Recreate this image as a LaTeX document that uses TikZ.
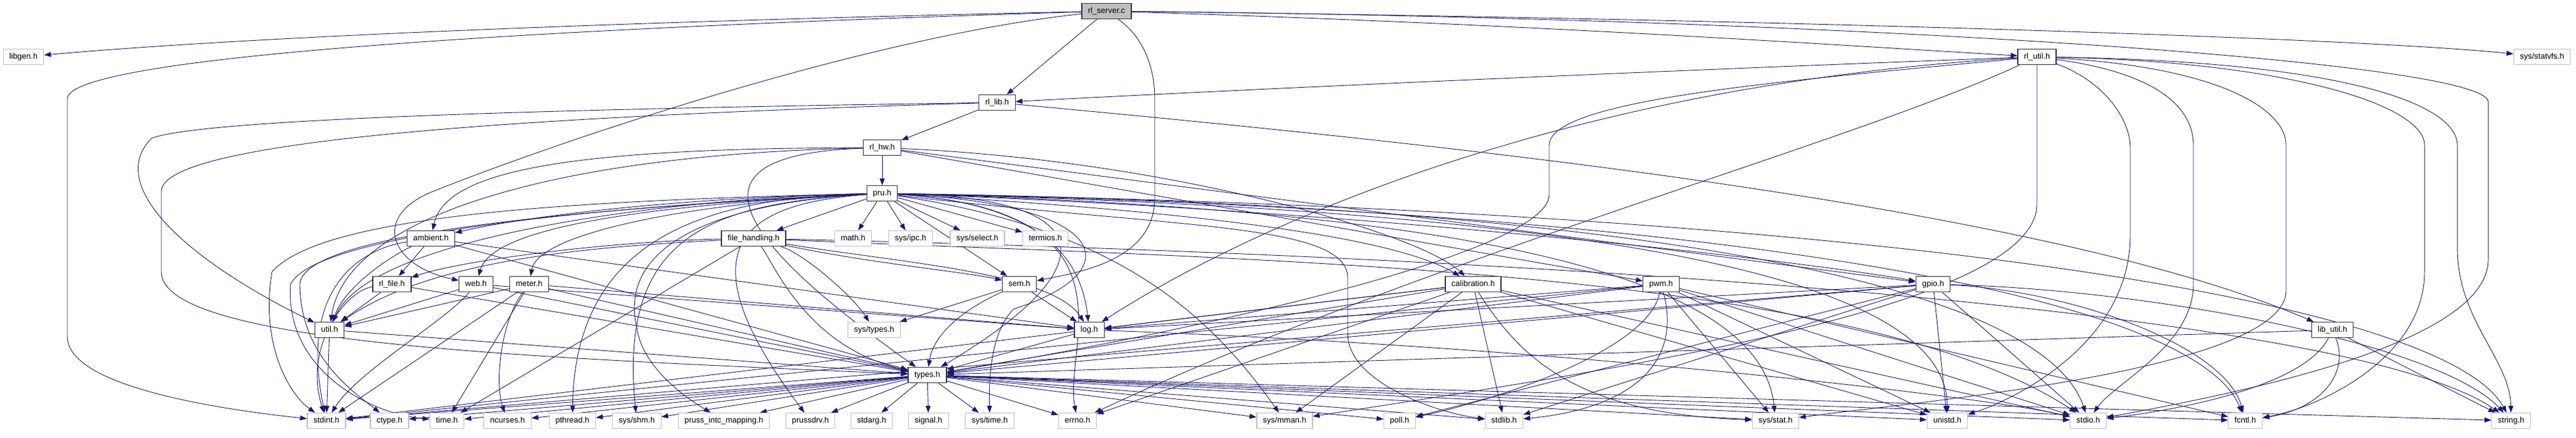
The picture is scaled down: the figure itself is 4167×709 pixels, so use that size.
\documentclass[tikz,border=0pt]{standalone}
\usepackage{fontspec}
\setmainfont{Liberation Sans}
\usetikzlibrary{arrows.meta}
\definecolor{eblue}{RGB}{25,25,112}
\definecolor{extgrey}{RGB}{191,191,191}
\pgfdeclarelayer{bg}
\pgfdeclarelayer{paper}
\pgfsetlayers{paper,bg,main}
\begin{document}
\begin{tikzpicture}[x=1pt,y=-1pt,
  nd/.style={draw=black!80, line width=1.2pt, fill=white, minimum height=25pt,
    inner xsep=10pt, inner ysep=0pt, text height=9.5pt, text depth=2.7pt,
    font=\fontsize{13}{15}\selectfont},
  ext/.style={nd, draw=extgrey},
  rootn/.style={nd, fill=extgrey},
  e/.style={draw=eblue, line width=0.9pt, -{Triangle[length=11pt,width=8pt]}}]
\begin{pgfonlayer}{paper}
\fill[white] (0,0) rectangle (4167,709);
\end{pgfonlayer}
\useasboundingbox (0,0) rectangle (4167,709);
% ---- nodes ----
\node[rootn] (R) at (1790,18) {rl\_server.c};
\node[ext] (libgen) at (38,92) {libgen.h};
\node[nd] (rlutil) at (3295,92) {rl\_util.h};
\node[ext] (statvfs) at (4112,92) {sys/statvfs.h};
\node[nd] (rllib) at (1613,166) {rl\_lib.h};
\node[nd] (rlhw) at (1427,239) {rl\_hw.h};
\node[nd] (pru) at (1427,313) {pru.h};
\node[nd] (ambient) at (697,386) {ambient.h};
\node[nd] (fh) at (1219,386) {file\_handling.h};
\node[ext] (math) at (1380,386) {math.h};
\node[ext] (ipc) at (1473,386) {sys/ipc.h};
\node[ext] (select) at (1581,386) {sys/select.h};
\node[ext] (termios) at (1691,386) {termios.h};
\node[nd] (rlfile) at (634,460) {rl\_file.h};
\node[nd] (web) at (770,460) {web.h};
\node[nd] (meter) at (856,460) {meter.h};
\node[nd] (sem) at (1649,460) {sem.h};
\node[nd] (calib) at (2383,460) {calibration.h};
\node[nd] (pwm) at (2687,460) {pwm.h};
\node[nd] (gpio) at (3127,460) {gpio.h};
\node[nd] (util) at (533,534) {util.h};
\node[ext] (systypes) at (1414,534) {sys/types.h};
\node[nd] (log) at (1762,534) {log.h};
\node[nd] (libutil) at (3773,534) {lib\_util.h};
\node[nd] (types) at (1500,607) {types.h};
\node[ext] (stdint) at (528,681) {stdint.h};
\node[ext] (ctype) at (630,681) {ctype.h};
\node[ext] (time) at (723,681) {time.h};
\node[ext] (ncurses) at (821,681) {ncurses.h};
\node[ext] (pthread) at (926,681) {pthread.h};
\node[ext] (shm) at (1030,681) {sys/shm.h};
\node[ext] (pruss) at (1171,681) {pruss\_intc\_mapping.h};
\node[ext] (prussdrv) at (1311,681) {prussdrv.h};
\node[ext] (stdarg) at (1410,681) {stdarg.h};
\node[ext] (signal) at (1502,681) {signal.h};
\node[ext] (systime) at (1601,681) {sys/time.h};
\node[ext] (errno) at (1743,681) {errno.h};
\node[ext] (mman) at (2078,681) {sys/mman.h};
\node[ext] (poll) at (2264,681) {poll.h};
\node[ext] (stdlib) at (2433,681) {stdlib.h};
\node[ext] (stat) at (2872,681) {sys/stat.h};
\node[ext] (unistd) at (3150,681) {unistd.h};
\node[ext] (stdio) at (3378,681) {stdio.h};
\node[ext] (fcntl) at (3632,681) {fcntl.h};
\node[ext] (string) at (4062,681) {string.h};
% ---- edges ----
\begin{pgfonlayer}{bg}
% rl_server.c
\draw[e] (R) .. controls (1000,35) and (400,60) .. (libgen);
\draw[e] (R) .. controls (900,45) and (109,90) .. (109,160) -- (109,545) .. controls (109,625) and (350,662) .. (stdint);
\draw[e] (R) .. controls (1400,60) and (900,230) .. (700,310) .. controls (600,350) and (630,430) .. (web);
\draw[e] (R) -- (rllib);
\draw[e] (R) .. controls (1850,60) and (1868,110) .. (1868,160) -- (1868,320) .. controls (1868,420) and (1750,440) .. (sem);
\draw[e] (R) .. controls (2500,40) and (3000,75) .. (rlutil);
\draw[e] (R) .. controls (2800,30) and (3800,60) .. (statvfs);
\draw[e] (R) .. controls (3000,30) and (4025,100) .. (4025,165) -- (4025,420) .. controls (4025,560) and (3600,640) .. (stdio);
% rl_lib.h
\draw[e] (rllib) .. controls (1000,175) and (330,190) .. (245,224) .. controls (170,300) and (300,420) .. (util);
\draw[e] (rllib) .. controls (800,190) and (261,230) .. (261,310) -- (261,440) .. controls (261,560) and (900,580) .. (types);
\draw[e] (rllib) -- (rlhw);
\draw[e] (rllib) .. controls (2300,230) and (3300,330) .. (libutil);
% rl_util.h
\draw[e] (rlutil) .. controls (2800,110) and (2100,140) .. (rllib);
\draw[e] (rlutil) .. controls (2500,140) and (2000,380) .. (log);
\draw[e] (rlutil) .. controls (2900,130) and (2506,160) .. (2506,235) -- (2506,315) .. controls (2506,420) and (1800,560) .. (types);
\draw[e] (rlutil) .. controls (3000,230) and (2300,420) .. (errno);
\draw[e] (rlutil) -- (3295,330) .. controls (3295,500) and (2600,600) .. (mman);
\draw[e] (rlutil) .. controls (3400,130) and (3446,190) .. (3446,240) -- (3446,380) .. controls (3446,560) and (3250,650) .. (unistd);
\draw[e] (rlutil) .. controls (3500,120) and (3548,180) .. (3548,235) -- (3548,460) .. controls (3548,560) and (3420,620) .. (stdio);
\draw[e] (rlutil) .. controls (3600,110) and (3698,180) .. (3698,235) -- (3698,470) .. controls (3698,600) and (3100,650) .. (stat);
\draw[e] (rlutil) .. controls (3700,100) and (3922,170) .. (3922,235) -- (3922,440) .. controls (3922,580) and (3750,660) .. (fcntl);
\draw[e] (rlutil) .. controls (3800,100) and (3975,170) .. (3975,235) -- (3975,400) .. controls (3975,520) and (4060,580) .. (string);
% rl_hw.h
\draw[e] (rlhw) -- (pru);
\draw[e] (rlhw) .. controls (900,240) and (720,280) .. (ambient);
\draw[e] (rlhw) .. controls (900,250) and (560,350) .. (util);
\draw[e] (rlhw) .. controls (1100,250) and (1180,380) .. (types);
\draw[e] (rlhw) .. controls (1900,260) and (2300,380) .. (calib);
\draw[e] (rlhw) -- (pwm);
\draw[e] (rlhw) -- (gpio);
% pru.h
\draw[e] (pru) -- (math);
\draw[e] (pru) -- (ipc);
\draw[e] (pru) -- (select);
\draw[e] (pru) -- (termios);
\draw[e] (pru) .. controls (1100,320) and (850,350) .. (ambient);
\draw[e] (pru) -- (fh);
\draw[e] (pru) .. controls (1100,330) and (800,360) .. (web);
\draw[e] (pru) .. controls (1100,330) and (870,380) .. (meter);
\draw[e] (pru) .. controls (1100,320) and (600,380) .. (util);
\draw[e] (pru) .. controls (900,325) and (520,350) .. (440,440) .. controls (420,560) and (470,640) .. (stdint);
\draw[e] (pru) .. controls (900,340) and (490,380) .. (485,460) .. controls (485,580) and (580,640) .. (ctype);
\draw[e] (pru) .. controls (950,335) and (510,380) .. (470,460) .. controls (460,600) and (600,670) .. (time);
\draw[e] (pru) .. controls (1150,320) and (930,380) .. (pthread);
\draw[e] (pru) .. controls (1150,330) and (1000,380) .. (shm);
\draw[e] (pru) .. controls (1150,330) and (1000,400) .. (1030,530) .. controls (1040,600) and (1120,650) .. (pruss);
\draw[e] (pru) .. controls (1200,330) and (1100,400) .. (prussdrv);
\draw[e] (pru) -- (sem);
\draw[e] (pru) .. controls (1700,330) and (1750,430) .. (log);
\draw[e] (pru) .. controls (1800,320) and (1780,440) .. (types);
\draw[e] (pru) .. controls (1800,330) and (1830,440) .. (1640,500) .. controls (1600,540) and (1600,620) .. (systime);
\draw[e] (pru) .. controls (1850,340) and (1720,560) .. (errno);
\draw[e] (pru) .. controls (1800,370) and (1950,500) .. (mman);
\draw[e] (pru) .. controls (1900,340) and (2250,380) .. (calib);
\draw[e] (pru) .. controls (1900,370) and (2180,360) .. (2180,450) -- (2180,540) .. controls (2180,620) and (2330,670) .. (stdlib);
\draw[e] (pru) .. controls (2400,340) and (2850,450) .. (stat);
\draw[e] (pru) .. controls (2200,340) and (2900,420) .. (gpio);
\draw[e] (pru) .. controls (2600,340) and (3150,450) .. (unistd);
\draw[e] (pru) .. controls (2600,330) and (3300,450) .. (stdio);
\draw[e] (pru) .. controls (2800,340) and (3550,480) .. (fcntl);
\draw[e] (pru) .. controls (3000,340) and (3950,480) .. (string);
% ambient.h
\draw[e] (ambient) -- (rlfile);
\draw[e] (ambient) .. controls (640,410) and (560,460) .. (util);
\draw[e] (ambient) .. controls (600,400) and (480,450) .. (stdint);
\draw[e] (ambient) -- (log);
\draw[e] (ambient) -- (types);
% file_handling.h
\draw[e] (fh) .. controls (1000,390) and (750,420) .. (rlfile);
\draw[e] (fh) .. controls (950,400) and (700,420) .. (util);
\draw[e] (fh) -- (time);
\draw[e] (fh) .. controls (1300,410) and (1380,480) .. (systypes);
\draw[e] (fh) .. controls (1250,420) and (1300,560) .. (types);
\draw[e] (fh) .. controls (1400,425) and (1560,440) .. (sem);
\draw[e] (fh) .. controls (1450,425) and (1700,440) .. (log);
\draw[e] (fh) .. controls (2000,420) and (3000,430) .. (stdio);
\draw[e] (fh) .. controls (2500,415) and (3800,500) .. (string);
% web.h
\draw[e] (web) -- (util);
\draw[e] (web) .. controls (720,520) and (580,600) .. (stdint);
\draw[e] (web) -- (log);
\draw[e] (web) -- (types);
% meter.h
\draw[e] (meter) -- (util);
\draw[e] (meter) -- (stdint);
\draw[e] (meter) -- (time);
\draw[e] (meter) .. controls (810,520) and (800,620) .. (ncurses);
\draw[e] (meter) -- (log);
\draw[e] (meter) -- (types);
% rl_file.h
\draw[e] (rlfile) -- (util);
\draw[e] (rlfile) .. controls (560,470) and (490,560) .. (stdint);
\draw[e] (rlfile) -- (types);
% util.h
\draw[e] (util) -- (stdint);
\draw[e] (util) -- (types);
% sem.h
\draw[e] (sem) -- (systypes);
\draw[e] (sem) .. controls (1560,500) and (1510,540) .. (types);
\draw[e] (sem) -- (log);
% log.h
\draw[e] (log) -- (types);
\draw[e] (log) .. controls (2500,560) and (3200,640) .. (stdio);
% types.h
\foreach \t in {stdint,ctype,time,ncurses,pthread,shm,pruss,prussdrv,stdarg,signal,systime,errno,mman,poll,stdlib,stat,unistd,stdio,fcntl,string}
  \draw[e] (types) -- (\t);
% calibration.h
\draw[e] (calib) -- (types);
\draw[e] (calib) -- (log);
\draw[e] (calib) -- (stdint);
\draw[e] (calib) -- (mman);
\draw[e] (calib) -- (stdlib);
\draw[e] (calib) .. controls (2460,580) and (2550,670) .. (stat);
\draw[e] (calib) -- (unistd);
\draw[e] (calib) -- (stdio);
\draw[e] (calib) -- (errno);
% pwm.h
\draw[e] (pwm) -- (types);
\draw[e] (pwm) -- (log);
\draw[e] (pwm) -- (stdint);
\draw[e] (pwm) .. controls (2670,560) and (2450,640) .. (poll);
\draw[e] (pwm) .. controls (2720,580) and (2650,660) .. (stdlib);
\draw[e] (pwm) -- (stat);
\draw[e] (pwm) -- (unistd);
\draw[e] (pwm) -- (stdio);
\draw[e] (pwm) -- (fcntl);
% gpio.h
\draw[e] (gpio) -- (types);
\draw[e] (gpio) -- (log);
\draw[e] (gpio) -- (stdint);
\draw[e] (gpio) -- (poll);
\draw[e] (gpio) -- (stdlib);
\draw[e] (gpio) -- (unistd);
\draw[e] (gpio) -- (stdio);
\draw[e] (gpio) .. controls (3350,470) and (3600,560) .. (fcntl);
\draw[e] (gpio) .. controls (3500,470) and (3950,560) .. (string);
% lib_util.h
\draw[e] (libutil) -- (types);
\draw[e] (libutil) .. controls (3800,600) and (3760,660) .. (fcntl);
\draw[e] (libutil) .. controls (3730,620) and (3550,660) .. (stdio);
\draw[e] (libutil) -- (string);
\end{pgfonlayer}
\end{tikzpicture}
\end{document}
